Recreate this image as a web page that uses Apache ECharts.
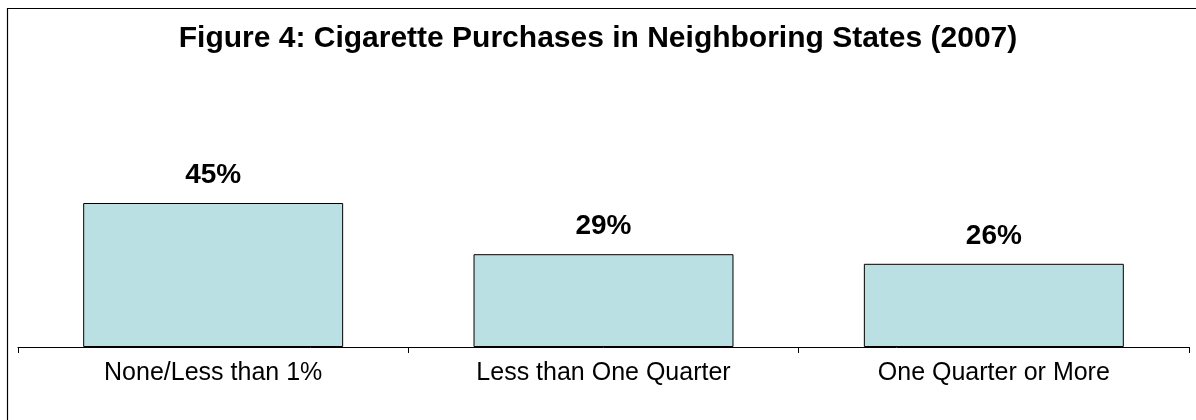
<!DOCTYPE html>
<html>
<head>
<meta charset="utf-8">
<script src="https://cdn.jsdelivr.net/npm/echarts@6/dist/echarts.min.js"></script>
<style>
  html, body { margin: 0; padding: 0; background: #ffffff; }
  #chart { width: 1196px; height: 420px; }
</style>
</head>
<body>
<div id="chart"></div>
<script>
// Share of smokers buying cigarettes in neighboring states, 2007
const titleText = 'Figure 4: Cigarette Purchases in Neighboring States (2007)';
const categories = ['None/Less than 1%', 'Less than One Quarter', 'One Quarter or More'];
const shares = [45, 29, 26];

const chart = echarts.init(document.getElementById('chart'), null, { renderer: 'canvas' });

chart.setOption({
  backgroundColor: '#ffffff',
  animation: false,
  title: {
    text: titleText,
    left: 'center',
    top: 19,
    textStyle: {
      fontFamily: 'Liberation Sans, Arial, sans-serif',
      fontWeight: 'bold',
      fontSize: 30,
      color: '#000000'
    }
  },
  graphic: [{
    // frame around the chart area (top and left edges fall inside the canvas)
    type: 'rect',
    shape: { x: 7.5, y: 8.5, width: 1220, height: 440 },
    style: { fill: 'none', stroke: '#000000', lineWidth: 1.2 },
    silent: true
  }],
  grid: { left: 18, right: 7, top: 187, bottom: 73 },
  xAxis: {
    type: 'category',
    data: categories,
    axisLine: { show: true, lineStyle: { color: '#000000', width: 1 } },
    axisTick: { show: true, length: 6, lineStyle: { color: '#000000' } },
    axisLabel: {
      fontFamily: 'Liberation Sans, Arial, sans-serif',
      fontSize: 25,
      color: '#000000',
      margin: 14
    }
  },
  yAxis: {
    type: 'value',
    min: 0,
    max: 50,
    show: false,
    splitLine: { show: false }
  },
  series: [{
    type: 'bar',
    data: shares,
    barWidth: '66.6%',
    itemStyle: {
      color: '#BBE0E3',
      borderColor: '#000000',
      borderWidth: 1
    },
    label: {
      show: true,
      position: 'top',
      distance: 14,
      formatter: p => p.value + '%',
      fontFamily: 'Liberation Sans, Arial, sans-serif',
      fontWeight: 'bold',
      fontSize: 28,
      color: '#000000'
    }
  }]
});
</script>
</body>
</html>
